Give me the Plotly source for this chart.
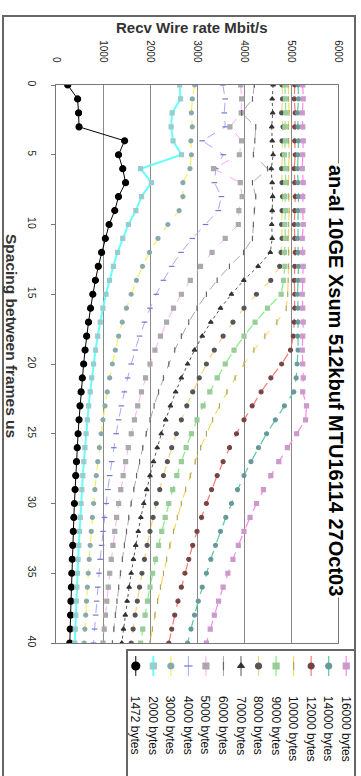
import plotly.graph_objects as go

W, H = 361, 776

spacing_us = list(range(0, 41))

labels = ["1472 bytes", "2000 bytes", "3000 bytes", "4000 bytes", "5000 bytes",
          "6000 bytes", "7000 bytes", "8000 bytes", "9000 bytes", "10000 bytes",
          "12000 bytes", "14000 bytes", "16000 bytes"]

rate_1472 = [250, 460, 480, 490, 1460, 1330, 1420, 1480, 1330, 1250, 1130, 1050, 970, 900, 838, 783,
             735, 692, 652, 619, 588, 560, 534, 511, 490, 470, 452, 436, 420, 406, 392, 380, 368,
             357, 346, 336, 327, 318, 310, 302, 294]
rate_2000 = [2630, 2650, 2470, 2450, 2490, 2670, 1800, 2030, 1820, 1700, 1540, 1420, 1310, 1220, 1138,
             1064, 998, 940, 887, 841, 799, 761, 727, 695, 666, 640, 615, 592, 571, 551, 533, 516,
             500, 485, 470, 457, 444, 432, 421, 410, 400]
rate_3000 = [2950, 2900, 2880, 2900, 2870, 2880, 2850, 2700, 2700, 2620, 2380, 2170, 1990, 1840, 1712,
             1598, 1498, 1410, 1333, 1262, 1199, 1142, 1090, 1043, 999, 960, 923, 889, 857, 827, 800,
             774, 750, 727, 706, 686, 667, 649, 632, 615, 600]
rate_4000 = [3550, 3600, 3580, 3600, 3110, 3560, 3400, 3370, 3520, 3450, 3180, 2900, 2660, 2460, 2285,
             2133, 2000, 1882, 1778, 1684, 1600, 1524, 1455, 1391, 1333, 1280, 1231, 1185, 1143, 1103,
             1067, 1032, 1000, 970, 941, 914, 889, 865, 842, 821, 800]
rate_5000 = [3930, 3950, 3940, 3700, 3950, 3900, 3350, 3920, 3960, 3890, 3880, 3600, 3320, 3075, 2857,
             2667, 2500, 2353, 2222, 2105, 2000, 1905, 1818, 1739, 1667, 1600, 1538, 1481, 1429, 1379,
             1333, 1290, 1250, 1212, 1176, 1143, 1111, 1081, 1053, 1026, 1000]
rate_6000 = [4220, 4180, 3950, 4250, 4230, 4200, 4500, 4180, 4250, 4220, 4200, 4180, 3990, 3690, 3428,
             3200, 3000, 2824, 2667, 2526, 2400, 2286, 2182, 2087, 2000, 1920, 1846, 1778, 1714, 1655,
             1600, 1548, 1500, 1455, 1412, 1371, 1333, 1297, 1263, 1231, 1200]
rate_7000 = [4620, 4600, 4610, 4590, 4600, 4620, 4580, 4600, 4610, 4600, 4590, 4600, 4560, 4300, 3995,
             3733, 3500, 3294, 3111, 2947, 2800, 2667, 2545, 2435, 2333, 2240, 2154, 2074, 2000, 1931,
             1867, 1806, 1750, 1697, 1647, 1600, 1556, 1514, 1474, 1436, 1400]
rate_8000 = [4810, 4820, 4800, 4830, 4810, 4820, 4800, 4810, 4820, 4810, 4800, 4810, 4790, 4760, 4570,
             4265, 4000, 3765, 3556, 3368, 3200, 3048, 2909, 2783, 2667, 2560, 2462, 2370, 2286, 2207,
             2133, 2065, 2000, 1939, 1882, 1829, 1778, 1730, 1684, 1641, 1600]
rate_9000 = [4870, 4880, 4890, 4870, 4880, 4860, 4880, 4890, 4870, 4880, 4870, 4880, 4860, 4870, 4840,
             4790, 4500, 4235, 4000, 3789, 3600, 3429, 3273, 3130, 3000, 2880, 2769, 2667, 2571, 2483,
             2400, 2323, 2250, 2182, 2118, 2057, 2000, 1946, 1895, 1846, 1800]
rate_10000 = [4940, 4950, 4960, 4940, 4950, 4960, 4950, 4940, 4950, 4960, 4950, 4940, 4950, 4950, 4940,
              4930, 4900, 4700, 4444, 4211, 4000, 3810, 3636, 3478, 3333, 3200, 3077, 2963, 2857, 2759,
              2667, 2581, 2500, 2424, 2353, 2286, 2222, 2162, 2105, 2051, 2000]
rate_12000 = [5080, 5070, 5090, 5080, 5080, 5090, 5070, 5080, 5090, 5080, 5070, 5080, 5090, 5080, 5070,
              5080, 5080, 5070, 5050, 4990, 4800, 4571, 4364, 4174, 4000, 3840, 3692, 3556, 3429, 3310,
              3200, 3097, 3000, 2909, 2824, 2743, 2667, 2595, 2526, 2462, 2400]
rate_14000 = [5150, 5160, 5140, 5150, 5160, 5150, 5140, 5150, 5160, 5150, 5150, 5140, 5150, 5160, 5150,
              5140, 5150, 5150, 5140, 5150, 5130, 5110, 5060, 4860, 4667, 4480, 4308, 4148, 4000, 3862,
              3733, 3613, 3500, 3394, 3294, 3200, 3111, 3027, 2947, 2872, 2800]
rate_16000 = [5250, 5260, 5240, 5250, 5260, 5250, 5240, 5260, 5250, 5250, 5260, 5240, 5250, 5260, 5250,
              5240, 5250, 5260, 5250, 5240, 5250, 5260, 5250, 5330, 5310, 5120, 4923, 4741, 4571, 4414,
              4267, 4129, 4000, 3879, 3765, 3657, 3556, 3459, 3368, 3282, 3200]

rate_ticks = [0, 1000, 2000, 3000, 4000, 5000, 6000]
spacing_ticks = [0, 5, 10, 15, 20, 25, 30, 35, 40]

series = [rate_1472, rate_2000, rate_3000, rate_4000, rate_5000, rate_6000, rate_7000,
          rate_8000, rate_9000, rate_10000, rate_12000, rate_14000, rate_16000]

# (line colour, dash, line width, marker symbol, marker colour, marker size)
styles = [
    ("#000000", "solid", 1.0, "circle", "#000000", 6),
    ("#66FFFF", "solid", 2.0, "square", "#99CCCC", 4),
    ("#F5F060", "dash", 1.2, "circle", "#88AAAA", 4),
    ("#A8A8FF", "dash", 1.0, "line-ew", "#7777CC", 4),
    ("#FFAAFF", "dash", 1.0, "square", "#AAAAAA", 4),
    ("#AAAAAA", "dash", 1.0, "line-ns", "#666666", 4),
    ("#555555", "dot", 1.0, "triangle-up", "#333333", 4),
    ("#FFD080", "dash", 1.2, "circle", "#555555", 4),
    ("#80F080", "dash", 1.2, "square", "#99CC99", 4),
    ("#FFD040", "dash", 1.0, "line-ns", "#AAAA66", 4),
    ("#FF7777", "dash", 1.2, "circle", "#774444", 4),
    ("#55CC99", "dash", 1.2, "circle", "#669999", 4),
    ("#FF88EE", "dash", 1.2, "square", "#CC99CC", 4),
]

fig = go.Figure()

for lab, vals, st in zip(labels, series, styles):
    lc, dash, lw, sym, mc, ms = st
    fig.add_trace(go.Scatter(
        x=vals, y=spacing_us, mode="lines+markers", name=lab,
        line=dict(color=lc, dash=dash, width=lw),
        marker=dict(symbol=sym, color=mc, size=ms,
                    line=dict(color=mc, width=1.2)),
        xaxis="x", yaxis="y", showlegend=False,
    ))

# custom rotated legend on helper axes
for lab, st in zip(labels, styles):
    lc, dash, lw, sym, mc, ms = st
    fig.add_trace(go.Scatter(
        x=[lab, lab], y=[0.05, 0.95], mode="lines",
        line=dict(color=lc, dash="solid", width=lw),
        xaxis="x2", yaxis="y2", showlegend=False, hoverinfo="skip",
    ))
    fig.add_trace(go.Scatter(
        x=[lab], y=[0.5], mode="markers",
        marker=dict(symbol=sym, color=mc, size=ms + 2, line=dict(color=mc, width=1.2)),
        xaxis="x2", yaxis="y2", showlegend=False, hoverinfo="skip",
    ))


def px(p):
    return p / W


def py(p):
    return 1 - p / H


font_main = "Liberation Sans, Arial, sans-serif"

annotations = [
    dict(text="<b>an-al 10GE Xsum 512kbuf MTU16114 27Oct03</b>", xref="paper", yref="paper",
         x=px(336), y=py(380), xanchor="center", yanchor="middle", textangle=90,
         showarrow=False, bgcolor="white",
         font=dict(size=20, color="#000000", family=font_main)),
    dict(text="<b>Recv Wire rate Mbit/s</b>", xref="paper", yref="paper",
         x=px(192), y=py(28), xanchor="center", yanchor="middle", showarrow=False,
         font=dict(size=15, color="#333333", family=font_main)),
    dict(text="<b>Spacing between frames us</b>", xref="paper", yref="paper",
         x=px(12), y=py(336), xanchor="center", yanchor="middle", textangle=90,
         showarrow=False, font=dict(size=15.5, color="#333333", family=font_main)),
]
for lab in labels:
    annotations.append(dict(
        text=lab, xref="x2", yref="paper", x=lab, y=py(694),
        xanchor="center", yanchor="top", textangle=90, showarrow=False,
        font=dict(size=12, color="#111111", family=font_main)))

fig.update_layout(
    width=W, height=H,
    margin=dict(l=0, r=0, t=0, b=0),
    paper_bgcolor="white", plot_bgcolor="white",
    font=dict(family=font_main, color="#222222"),
    xaxis=dict(
        domain=[px(56), px(338)], range=[0, 6000], side="top", anchor="y",
        tickvals=rate_ticks, ticktext=[str(v) for v in rate_ticks], tickangle=90,
        tickfont=dict(size=10, color="#222222"), ticks="", ticklabelstandoff=18,
        showgrid=True, gridcolor="#8a8a8a", gridwidth=1, zeroline=False,
        showline=True, linecolor="#777777", linewidth=1, mirror=True, automargin=False,
    ),
    yaxis=dict(
        domain=[py(643), py(85)], range=[40, 0], anchor="x",
        tickvals=spacing_ticks, ticktext=[str(v) for v in spacing_ticks], tickangle=90,
        tickfont=dict(size=10.5, color="#222222"), ticks="outside", ticklen=4,
        tickcolor="#777777", ticklabelstandoff=10,
        showgrid=False, zeroline=False,
        showline=True, linecolor="#777777", linewidth=1, mirror=True, automargin=False,
    ),
    xaxis2=dict(
        domain=[px(127), px(355)], anchor="y2", type="category",
        categoryorder="array", categoryarray=labels, range=[-0.5, len(labels) - 0.5],
        showticklabels=False, ticks="",
        showgrid=False, zeroline=False, showline=False, automargin=False,
    ),
    yaxis2=dict(
        domain=[py(677), py(655)], anchor="x2", range=[0, 1],
        showticklabels=False, showgrid=False, zeroline=False, showline=False,
        automargin=False,
    ),
    shapes=[
        dict(type="rect", xref="paper", yref="paper", x0=px(3), x1=px(355),
             y0=-0.01, y1=py(16), line=dict(color="#666666", width=2), layer="below"),
        dict(type="rect", xref="paper", yref="paper", x0=px(127), x1=px(355),
             y0=-0.01, y1=py(650), line=dict(color="#666666", width=2), layer="below"),
    ],
    annotations=annotations,
)

fig.write_html("out.html",
               config={"displayModeBar": False},
               post_script="document.body.style.margin='0';document.body.style.overflow='hidden';")
